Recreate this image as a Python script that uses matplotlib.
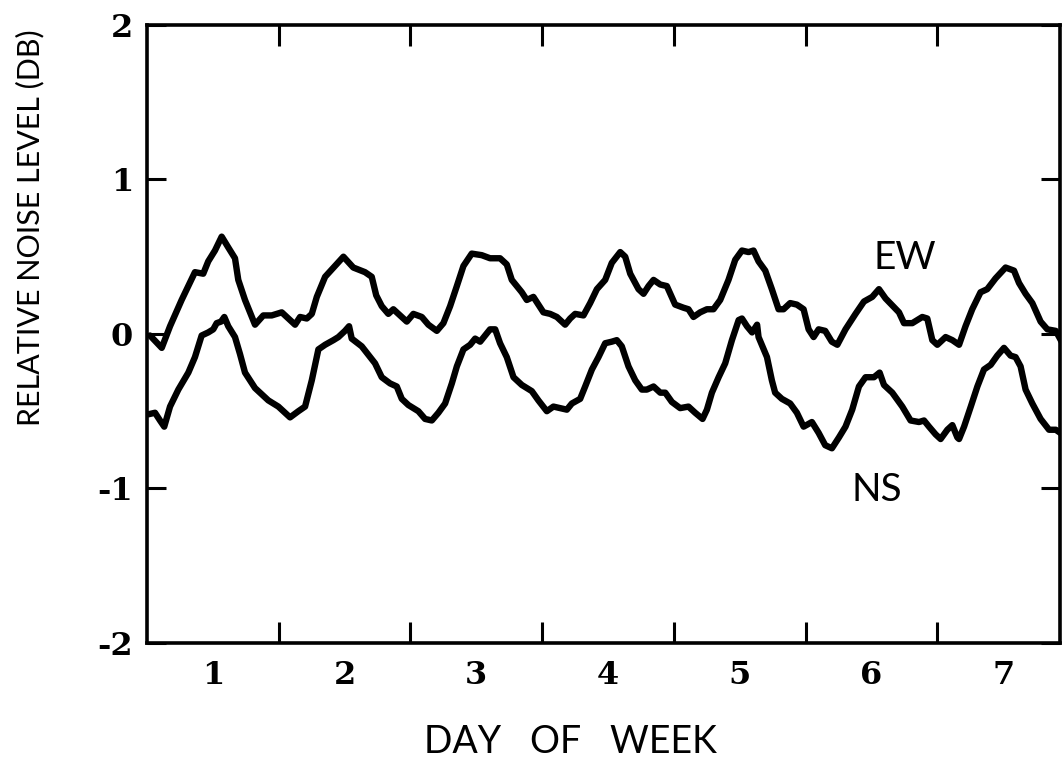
import numpy as np
import matplotlib.pyplot as plt

# 東西成分 (EW) の相対雑音レベル
ew_day = [0.523, 0.612, 0.675, 0.763, 0.864, 0.927, 0.965, 1.016, 1.067, 1.117,
          1.168, 1.193, 1.244, 1.320, 1.383, 1.447, 1.523, 1.573, 1.624, 1.662,
          1.713, 1.751, 1.789, 1.852, 1.927, 1.991, 2.066, 2.155, 2.206, 2.240,
          2.282, 2.332, 2.370, 2.421, 2.472, 2.522, 2.586, 2.636, 2.700, 2.750,
          2.801, 2.852, 2.902, 2.965, 3.041, 3.104, 3.180, 3.231, 3.269, 3.345,
          3.383, 3.433, 3.471, 3.509, 3.560, 3.611, 3.674, 3.712, 3.750, 3.813,
          3.864, 3.915, 3.978, 4.028, 4.092, 4.130, 4.168, 4.231, 4.269, 4.307,
          4.345, 4.396, 4.446, 4.509, 4.572, 4.610, 4.648, 4.699, 4.750, 4.800,
          4.851, 4.914, 4.965, 5.016, 5.066, 5.104, 5.142, 5.193, 5.243, 5.294,
          5.332, 5.382, 5.433, 5.484, 5.522, 5.560, 5.598, 5.648, 5.698, 5.740,
          5.802, 5.878, 5.942, 6.005, 6.056, 6.106, 6.208, 6.246, 6.309, 6.385,
          6.423, 6.461, 6.499, 6.562, 6.613, 6.664, 6.713, 6.764, 6.827, 6.878,
          6.941, 7.017, 7.081, 7.119, 7.169, 7.220, 7.283, 7.334, 7.398, 7.449]
ew_level = [-0.01, -0.09, 0.05, 0.22, 0.40, 0.39, 0.47, 0.54, 0.63, 0.56,
            0.49, 0.35, 0.22, 0.06, 0.12, 0.12, 0.14, 0.10, 0.06, 0.11,
            0.10, 0.13, 0.24, 0.37, 0.44, 0.50, 0.43, 0.40, 0.37, 0.25,
            0.18, 0.13, 0.16, 0.12, 0.08, 0.13, 0.11, 0.06, 0.02, 0.07,
            0.18, 0.31, 0.44, 0.52, 0.51, 0.49, 0.49, 0.45, 0.35, 0.27,
            0.22, 0.24, 0.19, 0.14, 0.13, 0.11, 0.06, 0.10, 0.13, 0.12,
            0.20, 0.29, 0.35, 0.46, 0.53, 0.50, 0.39, 0.29, 0.26, 0.31,
            0.35, 0.32, 0.31, 0.19, 0.17, 0.16, 0.11, 0.14, 0.16, 0.16,
            0.22, 0.35, 0.48, 0.54, 0.53, 0.54, 0.47, 0.41, 0.29, 0.16,
            0.16, 0.20, 0.19, 0.16, 0.03, -0.02, 0.03, 0.02, -0.05, -0.07,
            0.03, 0.13, 0.21, 0.24, 0.29, 0.23, 0.14, 0.07, 0.07, 0.11,
            0.10, -0.04, -0.07, -0.02, -0.04, -0.07, 0.05, 0.16, 0.27, 0.29,
            0.36, 0.43, 0.41, 0.33, 0.26, 0.20, 0.08, 0.03, 0.02, -0.06]

# 南北成分 (NS) の相対雑音レベル
ns_day = [0.510, 0.561, 0.599, 0.631, 0.675, 0.738, 0.814, 0.864, 0.915, 0.965,
          1.003, 1.029, 1.062, 1.087, 1.117, 1.168, 1.206, 1.244, 1.320, 1.421,
          1.497, 1.548, 1.586, 1.649, 1.700, 1.751, 1.801, 1.852, 1.915, 1.953,
          2.003, 2.034, 2.054, 2.130, 2.231, 2.282, 2.345, 2.396, 2.434, 2.484,
          2.560, 2.611, 2.662, 2.712, 2.763, 2.814, 2.852, 2.902, 2.953, 2.991,
          3.029, 3.067, 3.104, 3.143, 3.180, 3.231, 3.282, 3.345, 3.421, 3.471,
          3.535, 3.585, 3.636, 3.687, 3.725, 3.788, 3.826, 3.877, 3.927, 3.978,
          4.028, 4.066, 4.104, 4.155, 4.206, 4.256, 4.294, 4.345, 4.396, 4.434,
          4.484, 4.547, 4.610, 4.661, 4.717, 4.750, 4.788, 4.839, 4.889, 4.940,
          4.991, 5.016, 5.054, 5.093, 5.131, 5.142, 5.206, 5.243, 5.268, 5.319,
          5.382, 5.433, 5.484, 5.547, 5.598, 5.648, 5.699, 5.752, 5.802, 5.853,
          5.904, 5.954, 6.018, 6.061, 6.094, 6.157, 6.233, 6.296, 6.360, 6.398,
          6.436, 6.486, 6.524, 6.575, 6.613, 6.651, 6.664, 6.702, 6.753, 6.803,
          6.853, 6.904, 6.954, 7.005, 7.055, 7.093, 7.131, 7.169, 7.220, 7.283,
          7.347, 7.398, 7.449]
ns_level = [-0.52, -0.51, -0.56, -0.60, -0.47, -0.36, -0.25, -0.15, -0.01, 0.01,
            0.03, 0.07, 0.08, 0.11, 0.05, -0.02, -0.13, -0.25, -0.35, -0.43,
            -0.47, -0.51, -0.54, -0.50, -0.47, -0.30, -0.10, -0.07, -0.04, -0.02,
            0.02, 0.05, -0.03, -0.08, -0.19, -0.28, -0.32, -0.34, -0.42, -0.46,
            -0.50, -0.55, -0.56, -0.51, -0.45, -0.32, -0.21, -0.10, -0.07, -0.03,
            -0.05, -0.01, 0.03, 0.03, -0.06, -0.15, -0.28, -0.33, -0.37, -0.43,
            -0.50, -0.47, -0.48, -0.49, -0.45, -0.42, -0.34, -0.23, -0.15, -0.06,
            -0.05, -0.04, -0.08, -0.21, -0.30, -0.36, -0.36, -0.34, -0.38, -0.38,
            -0.44, -0.48, -0.47, -0.51, -0.55, -0.49, -0.38, -0.28, -0.19, -0.04,
            0.09, 0.10, 0.05, 0.01, 0.06, -0.02, -0.15, -0.30, -0.38, -0.42,
            -0.45, -0.51, -0.60, -0.57, -0.64, -0.72, -0.74, -0.67, -0.60, -0.49,
            -0.34, -0.28, -0.28, -0.25, -0.33, -0.38, -0.47, -0.56, -0.57, -0.56,
            -0.60, -0.65, -0.68, -0.62, -0.59, -0.67, -0.68, -0.60, -0.47, -0.34,
            -0.23, -0.20, -0.14, -0.09, -0.14, -0.15, -0.21, -0.36, -0.45, -0.55,
            -0.62, -0.62, -0.65]

day_ticks = [1, 2, 3, 4, 5, 6, 7]
day_edges = [1.5, 2.5, 3.5, 4.5, 5.5, 6.5]
level_ticks = [-2, -1, 0, 1, 2]
level_labels = ['-2', '-1', '0', '1', '2']

Fontsize = 23
label_font = 'Lato'
num_font = 'DejaVu Serif'

fig = plt.figure(figsize=(10.62, 7.61), dpi=100)
ax = fig.add_axes([0.1384, 0.1551, 0.8597, 0.8121])

ax.plot(ew_day, ew_level, color='black', linewidth=4.6,
        solid_joinstyle='round', solid_capstyle='round')
ax.plot(ns_day, ns_level, color='black', linewidth=4.6,
        solid_joinstyle='round', solid_capstyle='round')

ax.set_xlim(0.5, 7.43)
ax.set_ylim(-2, 2)

# 日の境界に目盛り線、日の中央に数字
ax.set_xticks(day_edges)
ax.set_xticklabels([])
ax.set_xticks(day_ticks, minor=True)
ax.set_xticklabels([str(d) for d in day_ticks], minor=True)
ax.tick_params(axis='x', which='major', direction='in', length=15, width=2.2,
               top=True, bottom=True)
ax.tick_params(axis='x', which='minor', length=0, pad=12)

ax.set_yticks(level_ticks)
ax.set_yticklabels(level_labels)
ax.tick_params(axis='y', which='major', direction='in', length=14, width=2.2,
               left=True, right=True, pad=10)

for lab in ax.get_xticklabels(minor=True) + ax.get_yticklabels():
    lab.set_fontfamily(num_font)
    lab.set_fontweight('bold')
    lab.set_fontsize(Fontsize)

for sp in ax.spines.values():
    sp.set_linewidth(2.6)

ax.text(6.255, 0.49, 'EW', fontsize=28, family=label_font,
        ha='center', va='center')
ax.text(6.043, -1.01, 'NS', fontsize=28, family=label_font,
        ha='center', va='center')

fig.text(30 / 1062, 1 - 228 / 761, 'RELATIVE NOISE LEVEL (DB)', rotation=90,
         fontsize=22, family=label_font, ha='center', va='center')
fig.text(570 / 1062, 1 - 742 / 761, 'DAY   OF   WEEK', fontsize=27,
         family=label_font, ha='center', va='center')

plt.savefig('out.png', dpi=100)
